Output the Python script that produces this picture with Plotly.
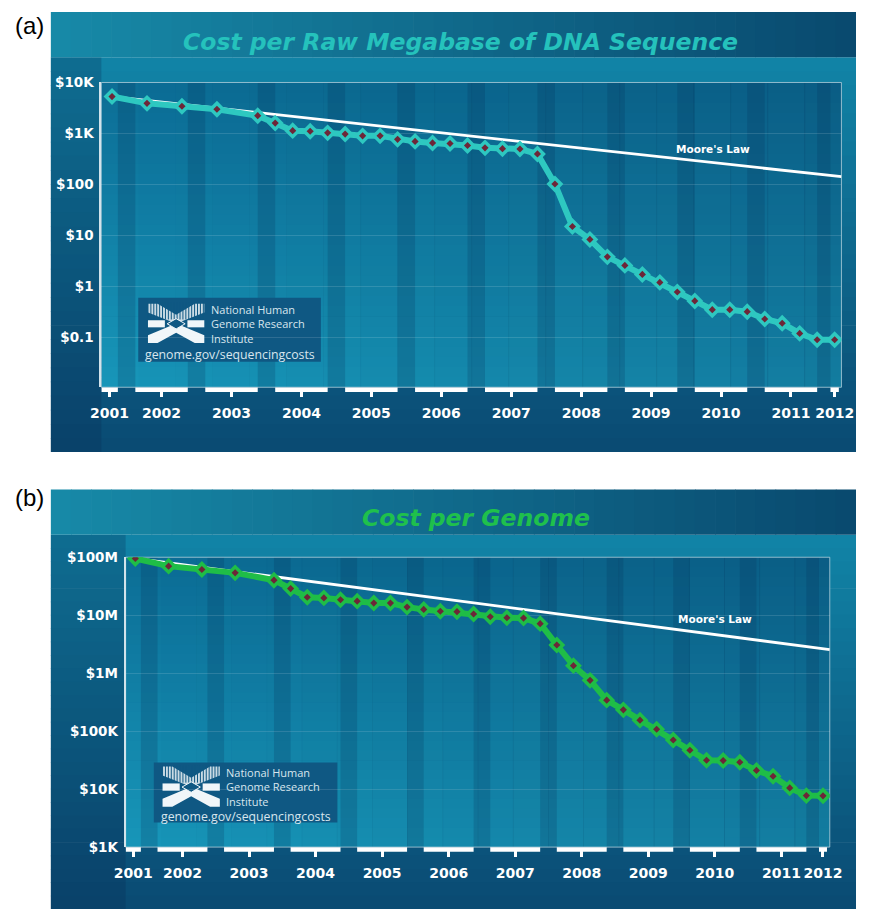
import plotly.graph_objects as go

W, H = 869, 917

# Survey dates (year-month) of the NHGRI sequencing cost data
dates = [
    "2001-09", "2002-03", "2002-09", "2003-03", "2003-10",
    "2004-01", "2004-04", "2004-07", "2004-10",
    "2005-01", "2005-04", "2005-07", "2005-10",
    "2006-01", "2006-04", "2006-07", "2006-10",
    "2007-01", "2007-04", "2007-07", "2007-10",
    "2008-01", "2008-04", "2008-07", "2008-10",
    "2009-01", "2009-04", "2009-07", "2009-10",
    "2010-01", "2010-04", "2010-07", "2010-10",
    "2011-01", "2011-04", "2011-07", "2011-10",
    "2012-01",
]

# Cost per raw megabase of DNA sequence (USD)
cost_per_mb = [
    5292, 3899, 3414, 2986, 2231,
    1599, 1136, 1107, 1029,
    974, 898, 899, 767,
    699, 652, 636, 582,
    523, 503, 496, 397,
    102, 15.0, 8.36, 3.81,
    2.59, 1.72, 1.20, 0.78,
    0.52, 0.35, 0.35, 0.32,
    0.23, 0.19, 0.12, 0.09,
    0.09,
]

# Cost per human-sized genome (USD)
cost_per_genome = [
    95.3e6, 70.2e6, 61.4e6, 53.8e6, 40.2e6,
    28.8e6, 20.4e6, 19.9e6, 18.5e6,
    17.5e6, 16.2e6, 16.2e6, 13.8e6,
    12.6e6, 11.7e6, 11.5e6, 10.5e6,
    9.41e6, 9.05e6, 8.93e6, 7.15e6,
    3.06e6, 1.35e6, 752e3, 343e3,
    233e3, 155e3, 108e3, 70.3e3,
    46.8e3, 31.5e3, 31.1e3, 29.1e3,
    21.0e3, 16.7e3, 10.5e3, 7.74e3,
    7.67e3,
]

# Moore's Law reference line: start and end values
moore_mb = [5290, 142]
moore_genome = [95.3e6, 2.55e6]

mb_tick_vals = [1e4, 1e3, 1e2, 1e1, 1, 0.1]
mb_tick_text = ["$10K", "$1K", "$100", "$10", "$1", "$0.1"]
genome_tick_vals = [1e8, 1e7, 1e6, 1e5, 1e4, 1e3]
genome_tick_text = ["$100M", "$10M", "$1M", "$100K", "$10K", "$1K"]


def frac_year(d):
    y, m = d.split("-")
    return int(y) + (int(m) - 1) / 12


xs = [frac_year(d) for d in dates]


def px(x):
    return x / W


def py(y):
    return 1 - y / H


def hex2rgb(h):
    h = h.lstrip("#")
    return tuple(int(h[i:i + 2], 16) for i in (0, 2, 4))


def mix(c0, c1, t):
    a, b = hex2rgb(c0), hex2rgb(c1)
    return "rgb(%d,%d,%d)" % tuple(round(a[i] + (b[i] - a[i]) * t) for i in range(3))


shapes = []
annotations = []


def rect(x0, y0, x1, y1, fill, line=None, layer="below"):
    shapes.append(dict(
        type="rect", xref="paper", yref="paper",
        x0=px(x0), x1=px(x1), y0=py(y1), y1=py(y0),
        fillcolor=fill, line=line or dict(width=0), layer=layer,
    ))


def grad_x(x0, y0, x1, y1, c0, c1, n):
    w = (x1 - x0) / n
    for i in range(n):
        rect(x0 + i * w, y0, min(x1, x0 + (i + 1) * w + 0.7), y1, mix(c0, c1, i / (n - 1)))


def grad_y(x0, y0, x1, y1, c0, c1, n):
    h = (y1 - y0) / n
    for i in range(n):
        rect(x0, y0 + i * h, x1, min(y1, y0 + (i + 1) * h + 0.7), mix(c0, c1, i / (n - 1)))


def text(x, y, s, size, color, family="DejaVu Sans", weight="bold", style="normal",
         xanchor="center", align="center"):
    annotations.append(dict(
        x=px(x), y=py(y), xref="paper", yref="paper", text=s, showarrow=False,
        xanchor=xanchor, yanchor="middle", align=align,
        font=dict(family=family, size=size, color=color, weight=weight, style=style),
    ))


def path(points, gx, gy, gw, gh):
    return "M " + " L ".join(
        "%.5f,%.5f" % (px(gx + u * gw), py(gy + v * gh)) for u, v in points) + " Z"


def logo(box, glyph, text_x, text_y, url_x, url_y):
    bx0, by0, bx1, by1 = box
    box_fill = "#0f5883"
    rect(bx0, by0, bx1, by1, box_fill)
    gx, gy, gw, gh = glyph
    upper = [(0, 0), (0.17, 0), (0.5, 0.28), (0.83, 0), (1, 0), (1, 0.22), (0.5, 0.5), (0, 0.22)]
    lower = [(0, 1), (0.17, 1), (0.5, 0.74), (0.83, 1), (1, 1), (1, 0.8), (0.5, 0.5), (0, 0.8)]
    shapes.append(dict(type="path", xref="paper", yref="paper", path=path(upper, gx, gy, gw, gh),
                       fillcolor="rgba(235,242,246,0.85)", line=dict(width=0), layer="below"))
    # vertical hatching across the upper ribbon
    k = 0
    while k * 3 < gw:
        u = k * 3 / gw
        shapes.append(dict(type="line", xref="paper", yref="paper",
                           x0=px(gx + u * gw), x1=px(gx + u * gw),
                           y0=py(gy - 1), y1=py(gy + 0.4 * gh),
                           line=dict(color=box_fill, width=1), layer="below"))
        k += 1
    shapes.append(dict(type="path", xref="paper", yref="paper", path=path(lower, gx, gy, gw, gh),
                       fillcolor="rgb(240,246,249)", line=dict(width=0), layer="below"))
    for u0, u1 in ((0, 0.3), (0.7, 1)):
        shapes.append(dict(type="path", xref="paper", yref="paper",
                           path=path([(u0, 0.42), (u1, 0.42), (u1, 0.6), (u0, 0.6)], gx, gy, gw, gh),
                           fillcolor="rgb(240,246,249)", line=dict(width=0), layer="below"))
    hole = [(0.5, 0.38), (0.66, 0.51), (0.5, 0.64), (0.34, 0.51)]
    shapes.append(dict(type="path", xref="paper", yref="paper", path=path(hole, gx, gy, gw, gh),
                       fillcolor=box_fill, line=dict(color="rgb(240,246,249)", width=1), layer="below"))
    text(text_x, text_y, "National Human<br>Genome Research<br>Institute", 11, "#d8e6ee",
         family="Open Sans", weight="normal", xanchor="left", align="left")
    text(url_x, url_y, "genome.gov/sequencingcosts", 12.3, "#d8e6ee", family="Open Sans",
         weight="normal")


panels = [
    dict(letter="(a)", letter_y=18, top=4, bottom=452, header=46,
         plot=(92, 75.8, 854, 386), xr=(2001.514, 2012.097), yr=(-1.977, 4.0),
         values=cost_per_mb, moore=moore_mb, color="#2ec8c0",
         title="Cost per Raw Megabase of DNA Sequence", title_xy=(462, 35), title_color="#25c2bc",
         tvals=mb_tick_vals, ttext=mb_tick_text, moore_xy=(722, 144),
         logo=dict(box=(130, 295, 318, 360), glyph=(140, 301, 58, 40), text_x=203,
                   text_y=322, url_x=224, url_y=352.5)),
    dict(letter="(b)", letter_y=498, top=490, bottom=917, header=46,
         plot=(117, 559, 842, 854), xr=(2001.521, 2012.102), yr=(3.0, 8.0),
         values=cost_per_genome, moore=moore_genome, color="#1fbd47",
         title="Cost per Genome", title_xy=(478, 519), title_color="#1fc04c",
         tvals=genome_tick_vals, ttext=genome_tick_text, moore_xy=(724, 622),
         logo=dict(box=(146, 768, 335, 829), glyph=(155, 772, 59, 41), text_x=218,
                   text_y=792.5, url_x=241, url_y=822.5)),
]

fig = go.Figure()
layout_axes = {}
years = sorted(set(int(x) for x in xs))

for i, p in enumerate(panels):
    n = "" if i == 0 else str(i + 1)
    xname, yname = "x" + n, "y" + n
    top, bottom, hdr = p["top"], p["bottom"], p["header"]
    pl, pt, pr, pb = p["plot"]

    # panel body, header band and left column shading
    grad_y(40, top + hdr, 869, bottom, "#1183a6", "#0a4b73", 28)
    rect(40, top + hdr, pl, bottom, "rgba(6,40,80,0.25)")
    grad_x(40, top, 869, top + hdr, "#1789a7", "#094a6f", 40)

    # plot area gradient
    grad_y(pl, pt, pr, pb, "#0c6e96", "#1795b8", 30)
    nx = 20
    wstep = (pr - pl) / nx
    for k in range(nx):
        rect(pl + k * wstep, pt, min(pr, pl + (k + 1) * wstep + 0.7), pb,
             "rgba(4,38,75,%.3f)" % (0.22 * k / (nx - 1)))

    # year segments along the time axis
    last = years[-1]
    segs = []
    for yv in years:
        pts = [x for x in xs if int(x) == yv]
        if yv == last:
            lo, hi = pts[0] - 0.06, pts[0] + 0.06
        else:
            lo = max(yv, p["xr"][0])
            hi = min(yv + 0.75, p["xr"][1])
        segs.append((lo, hi))
    centers = [(a + b) / 2 for a, b in segs]

    for (a0, a1), (b0, b1) in zip(segs[:-1], segs[1:]):
        shapes.append(dict(type="rect", xref=xname, yref="paper", x0=a1, x1=b0,
                           y0=py(pb), y1=py(pt), fillcolor="rgba(5,45,85,0.2)",
                           line=dict(width=0), layer="below"))
    rect(pl, pt, pr, pb, "rgba(0,0,0,0)", line=dict(color="rgba(190,214,224,0.75)", width=1))

    for a0, a1 in segs:
        shapes.append(dict(type="line", xref=xname, yref="paper", x0=a0, x1=a1,
                           y0=py(pb + 2.5), y1=py(pb + 2.5),
                           line=dict(color="white", width=4.5), layer="above"))

    logo(**p["logo"])

    text(18, p["letter_y"], p["letter"], 24, "black", family="Liberation Sans", weight="normal")
    text(p["title_xy"][0], p["title_xy"][1], p["title"], 23.5, p["title_color"],
         weight="bold", style="italic")
    text(p["moore_xy"][0], p["moore_xy"][1], "Moore's Law", 10.5, "white")

    fig.add_trace(go.Scatter(
        x=[xs[0], p["xr"][1]], y=p["moore"], xaxis=xname, yaxis=yname,
        mode="lines", line=dict(color="white", width=2.8), hoverinfo="skip", showlegend=False))
    fig.add_trace(go.Scatter(
        x=xs, y=p["values"], xaxis=xname, yaxis=yname, mode="lines+markers",
        line=dict(color=p["color"], width=6),
        marker=dict(symbol="diamond", size=13, color=p["color"]),
        showlegend=False))
    fig.add_trace(go.Scatter(
        x=xs, y=p["values"], xaxis=xname, yaxis=yname, mode="markers",
        marker=dict(symbol="diamond", size=5.5, color="#6d2638"),
        hoverinfo="skip", showlegend=False))

    layout_axes["xaxis" + n] = dict(
        domain=[px(pl), px(pr)], range=list(p["xr"]), anchor=yname,
        tickvals=centers, ticktext=[str(y) for y in years], tickangle=0,
        ticks="outside", ticklen=9, tickwidth=2.5, tickcolor="white",
        ticklabelstandoff=4,
        tickfont=dict(family="DejaVu Sans", size=14, color="white", weight="bold"),
        showgrid=False, zeroline=False, showline=False, fixedrange=True,
    )
    layout_axes["yaxis" + n] = dict(
        type="log", domain=[py(pb), py(pt)], range=list(p["yr"]), anchor=xname,
        tickvals=p["tvals"], ticktext=p["ttext"], ticks="",
        ticklabelstandoff=3,
        tickfont=dict(family="DejaVu Sans", size=13.5, color="white", weight="bold"),
        showgrid=True, gridcolor="rgba(255,255,255,0.13)", gridwidth=1,
        showline=True, linecolor="#d2e3eb", linewidth=2,
        zeroline=False, fixedrange=True,
    )

fig.update_layout(
    width=W, height=H, margin=dict(l=0, r=0, t=0, b=0),
    paper_bgcolor="white", plot_bgcolor="rgba(0,0,0,0)",
    shapes=shapes, annotations=annotations, showlegend=False,
    **layout_axes,
)

fig.write_html("out.html")
